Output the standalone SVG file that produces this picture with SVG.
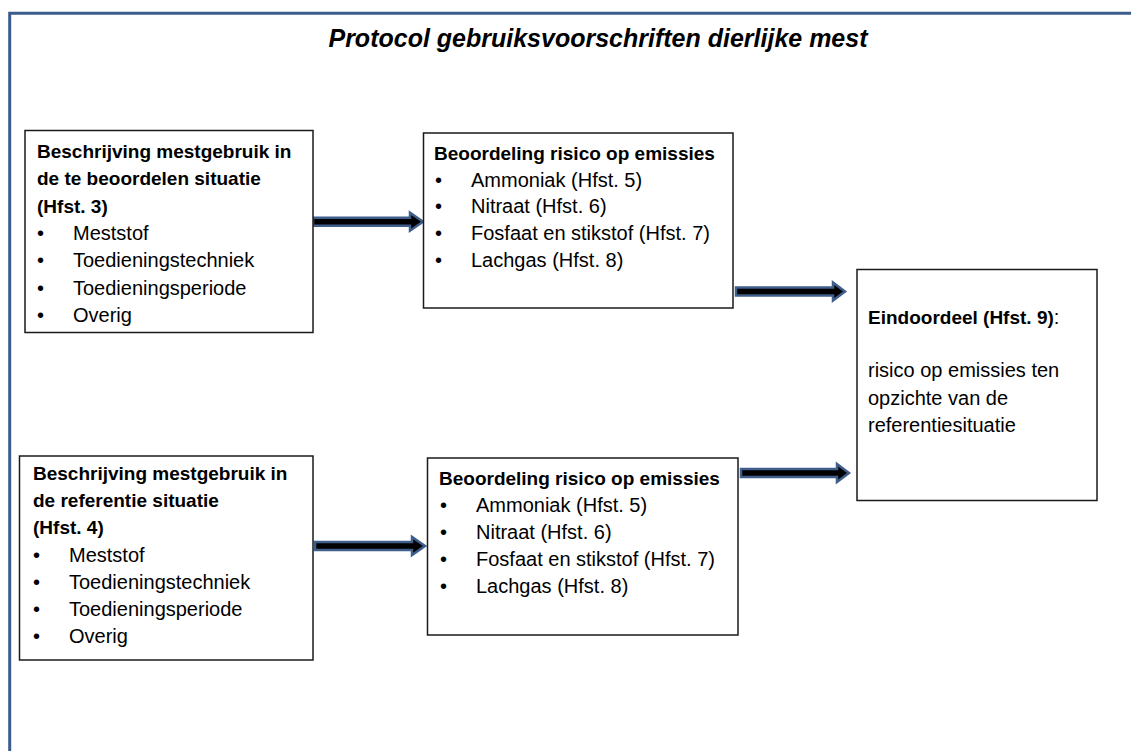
<svg xmlns="http://www.w3.org/2000/svg" width="1131" height="751" viewBox="0 0 1131 751">
<style>
.box{fill:#fff;stroke:#1a1a1a;stroke-width:1.5}
.t{font-family:"Liberation Sans",Arial,sans-serif;font-size:20px;fill:#000}
.b{font-family:"Liberation Sans",Arial,sans-serif;font-size:19px;font-weight:bold;fill:#000}
.title{font-family:"Liberation Sans",Arial,sans-serif;font-size:25px;font-weight:bold;font-style:italic;fill:#000}
.arr{fill:#000;stroke:#3e5f8c;stroke-width:2.5;stroke-linejoin:miter}
</style>
<rect width="1131" height="751" fill="#fff"/>
<path d="M9.7,751 V13.3 H1131" fill="none" stroke="#3b5d8c" stroke-width="3"/>
<text class="title" x="598" y="47" text-anchor="middle">Protocol gebruiksvoorschriften dierlijke mest</text>

<g id="connectors">
<path class="arr" d="M313,217.7 H410 V212.7 L423,221.7 L410,230.7 V225.7 H313 Z"/>
<path class="arr" d="M736,287.5 H833 V282.5 L845,291.5 L833,300.5 V295.5 H736 Z"/>
<path class="arr" d="M315,542 H412 V537 L425,546 L412,555 V550 H315 Z"/>
<path class="arr" d="M741,469 H837 V464 L849,473 L837,482 V477 H741 Z"/>
</g>

<g id="box1">
<rect class="box" x="25" y="130.5" width="288" height="202"/>
<text class="b" x="37" y="158">Beschrijving mestgebruik in</text>
<text class="b" x="37" y="185.3">de te beoordelen situatie</text>
<text class="b" x="37" y="212.6">(Hfst. 3)</text>
<text class="t" x="37" y="240">•</text><text class="t" x="73" y="240">Meststof</text>
<text class="t" x="37" y="267.3">•</text><text class="t" x="73" y="267.3">Toedieningstechniek</text>
<text class="t" x="37" y="294.6">•</text><text class="t" x="73" y="294.6">Toedieningsperiode</text>
<text class="t" x="37" y="322">•</text><text class="t" x="73" y="322">Overig</text>
</g>

<g id="box2">
<rect class="box" x="423.5" y="133" width="309.5" height="175"/>
<text class="b" x="434" y="160">Beoordeling risico op emissies</text>
<text class="t" x="435" y="186.7">•</text><text class="t" x="471" y="186.7">Ammoniak (Hfst. 5)</text>
<text class="t" x="435" y="213.3">•</text><text class="t" x="471" y="213.3">Nitraat (Hfst. 6)</text>
<text class="t" x="435" y="240">•</text><text class="t" x="471" y="240">Fosfaat en stikstof (Hfst. 7)</text>
<text class="t" x="435" y="266.7">•</text><text class="t" x="471" y="266.7">Lachgas (Hfst. 8)</text>
</g>

<g id="box3">
<rect class="box" x="19.5" y="456" width="293.5" height="204"/>
<text class="b" x="33" y="479.5">Beschrijving mestgebruik in</text>
<text class="b" x="33" y="507">de referentie situatie</text>
<text class="b" x="33" y="534">(Hfst. 4)</text>
<text class="t" x="33" y="561.5">•</text><text class="t" x="69" y="561.5">Meststof</text>
<text class="t" x="33" y="589">•</text><text class="t" x="69" y="589">Toedieningstechniek</text>
<text class="t" x="33" y="616">•</text><text class="t" x="69" y="616">Toedieningsperiode</text>
<text class="t" x="33" y="643">•</text><text class="t" x="69" y="643">Overig</text>
</g>

<g id="box4">
<rect class="box" x="427.5" y="458" width="310.5" height="177"/>
<text class="b" x="439" y="484.5">Beoordeling risico op emissies</text>
<text class="t" x="440" y="511.5">•</text><text class="t" x="476" y="511.5">Ammoniak (Hfst. 5)</text>
<text class="t" x="440" y="538.7">•</text><text class="t" x="476" y="538.7">Nitraat (Hfst. 6)</text>
<text class="t" x="440" y="566">•</text><text class="t" x="476" y="566">Fosfaat en stikstof (Hfst. 7)</text>
<text class="t" x="440" y="593.3">•</text><text class="t" x="476" y="593.3">Lachgas (Hfst. 8)</text>
</g>

<g id="box5">
<rect class="box" x="857" y="269.5" width="240" height="231"/>
<text x="868" y="324"><tspan class="b">Eindoordeel (Hfst. 9)</tspan><tspan class="t">:</tspan></text>
<text class="t" x="868" y="377">risico op emissies ten</text>
<text class="t" x="868" y="404.5">opzichte van de</text>
<text class="t" x="868" y="432">referentiesituatie</text>
</g>
</svg>
